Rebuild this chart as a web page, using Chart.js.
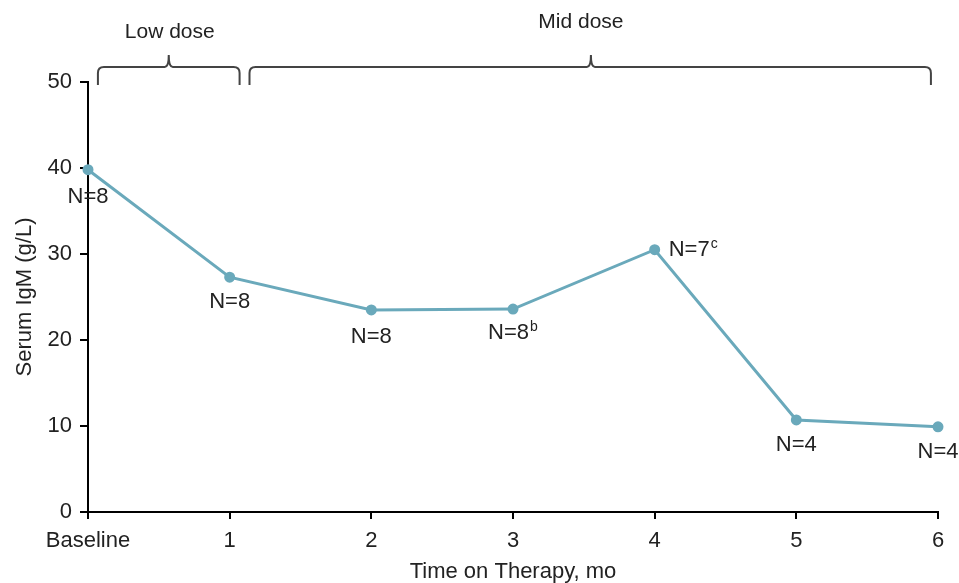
<!DOCTYPE html>
<html>
<head>
<meta charset="utf-8">
<script src="https://cdn.jsdelivr.net/npm/chart.js@4.4.1/dist/chart.umd.min.js"></script>
<style>
  html, body { margin: 0; padding: 0; background: #fff; }
  #wrap { width: 959px; height: 583px; }
</style>
</head>
<body>
<div id="wrap"><canvas id="chart"></canvas></div>
<script>
// months on therapy (0 = baseline)
const months = [0, 1, 2, 3, 4, 5, 6];
const tickNames = ['Baseline', '1', '2', '3', '4', '5', '6'];
const igm = [39.8, 27.3, 23.5, 23.6, 30.5, 10.7, 9.9];
const nLabels = ['N=8', 'N=8', 'N=8', 'N=8', 'N=7', 'N=4', 'N=4'];
const nSup = ['', '', '', 'b', 'c', '', ''];
// dose phases, in months
const doseNames = ['Low dose', 'Mid dose'];
const doseStart = [0.07, 1.14];
const doseEnd = [1.07, 5.95];
const doseTip = [0.57, 3.55];

const FONT = '"Liberation Sans", Arial, sans-serif';
const LINE = '#6aa9bb';

// where each N label sits relative to its point
const labelPos = [
  { dx: 0, dy: 27, align: 'center' },
  { dx: 0, dy: 25, align: 'center' },
  { dx: 0, dy: 27, align: 'center' },
  { dx: -25, dy: 24, align: 'left' },
  { dx: 14, dy: 0, align: 'left' },
  { dx: 0, dy: 25, align: 'center' },
  { dx: 0, dy: 25, align: 'center' }
];

const nLabelPlugin = {
  id: 'nLabels',
  afterDatasetsDraw(chart) {
    const ctx = chart.ctx;
    const meta = chart.getDatasetMeta(0);
    ctx.save();
    ctx.fillStyle = '#222';
    ctx.textBaseline = 'middle';
    meta.data.forEach((pt, i) => {
      const p = labelPos[i];
      ctx.font = '22px ' + FONT;
      const w = ctx.measureText(nLabels[i]).width;
      let x = pt.x + p.dx;
      if (p.align === 'center') x -= w / 2;
      const y = pt.y + p.dy;
      ctx.textAlign = 'left';
      ctx.fillText(nLabels[i], x, y);
      if (nSup[i]) {
        ctx.font = '14px ' + FONT;
        ctx.fillText(nSup[i], x + w + 1, y - 6);
      }
    });
    ctx.restore();
  }
};

const bracePlugin = {
  id: 'braces',
  afterDraw(chart) {
    const ctx = chart.ctx;
    const xs = chart.scales.x;
    const lineY = 67, endY = 85, tipY = 55;
    ctx.save();
    ctx.strokeStyle = '#444';
    ctx.lineWidth = 2;
    doseNames.forEach((name, i) => {
      const x0 = xs.getPixelForValue(doseStart[i]);
      const x1 = xs.getPixelForValue(doseEnd[i]);
      const xt = xs.getPixelForValue(doseTip[i]);
      ctx.beginPath();
      ctx.moveTo(x0, endY);
      ctx.lineTo(x0, lineY + 6);
      ctx.quadraticCurveTo(x0, lineY, x0 + 6, lineY);
      ctx.lineTo(xt - 4, lineY);
      ctx.quadraticCurveTo(xt, lineY, xt, tipY);
      ctx.quadraticCurveTo(xt, lineY, xt + 4, lineY);
      ctx.lineTo(x1 - 6, lineY);
      ctx.quadraticCurveTo(x1, lineY, x1, lineY + 6);
      ctx.lineTo(x1, endY);
      ctx.stroke();
      ctx.fillStyle = '#222';
      ctx.font = '21px ' + FONT;
      ctx.textAlign = 'center';
      ctx.textBaseline = 'middle';
      ctx.fillText(name, xt - (i === 0 ? -1 : 10), i === 0 ? 32 : 22);
    });
    ctx.restore();
  }
};

new Chart(document.getElementById('chart'), {
  type: 'line',
  data: {
    datasets: [{
      data: months.map((m, i) => ({ x: m, y: igm[i] })),
      borderColor: LINE,
      backgroundColor: LINE,
      borderWidth: 3,
      pointRadius: 4,
      pointHoverRadius: 4,
      tension: 0,
      clip: false
    }]
  },
  options: {
    responsive: true,
    maintainAspectRatio: false,
    animation: false,
    layout: { padding: { top: 82, right: 21, left: 0, bottom: 0 } },
    plugins: { legend: { display: false }, tooltip: { enabled: false } },
    scales: {
      x: {
        type: 'linear',
        min: 0,
        max: 6,
        afterFit(scale) { scale.height = 71; },
        ticks: {
          stepSize: 1,
          padding: 9,
          color: '#222',
          font: { family: FONT, size: 22 },
          callback: (v) => tickNames[v]
        },
        grid: { drawOnChartArea: false, drawTicks: true, tickLength: 7, color: '#000', lineWidth: 2 },
        border: { color: '#000', width: 2 },
        title: {
          display: true,
          text: 'Time on Therapy, mo',
          color: '#222',
          font: { family: FONT, size: 22, lineHeight: 1 },
          padding: { top: 0, bottom: 0 }
        }
      },
      y: {
        min: 0,
        max: 50,
        afterFit(scale) { scale.width = 88; },
        ticks: {
          stepSize: 10,
          padding: 8,
          color: '#222',
          font: { family: FONT, size: 22 }
        },
        grid: { drawOnChartArea: false, drawTicks: true, tickLength: 8, color: '#000', lineWidth: 2 },
        border: { color: '#000', width: 2 },
        title: {
          display: true,
          text: 'Serum IgM (g/L)',
          color: '#222',
          font: { family: FONT, size: 22 },
          padding: { top: 12, bottom: 0 }
        }
      }
    }
  },
  plugins: [nLabelPlugin, bracePlugin]
});
</script>
</body>
</html>
